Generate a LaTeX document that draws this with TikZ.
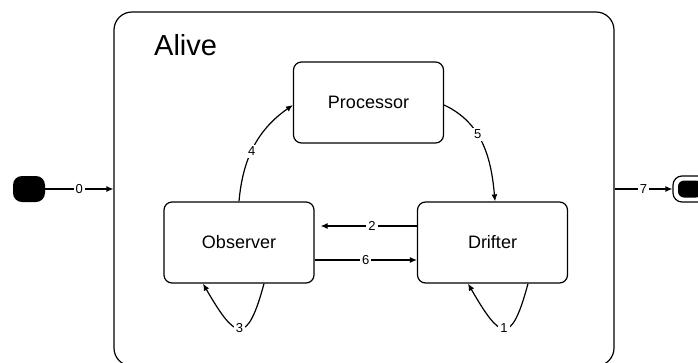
\documentclass[tikz,border=0pt]{standalone}
\usepackage{fontspec}
\setmainfont{Liberation Sans}
\usetikzlibrary{arrows.meta,positioning}

\tikzset{
  statebox/.style={draw,line width=1.2pt,rounded corners=8pt,minimum width=150pt,minimum height=81pt,font=\fontsize{18}{20}\selectfont},
  pseudo/.style={rectangle,rounded corners=9pt,inner sep=0pt},
  trans/.style={line width=1.2pt,->},
  lbl/.style={fill=white,inner sep=2pt,font=\fontsize{13}{14}\selectfont},
}

\begin{document}
\begin{tikzpicture}[x=1pt,y=1pt,>={Latex[length=7pt,width=6pt]}]
  \useasboundingbox (0,0) rectangle (698,-362);
  % composite state
  \node[draw,line width=1.2pt,rounded corners=18pt,minimum width=500pt,minimum height=354pt] (alive) at (364,-189) {};
  \node[anchor=base west,inner sep=0pt,font=\fontsize{29}{32}\selectfont] (title) at (154,-55) {Alive};
  % inner states
  \node[statebox] (proc) at (368.5,-102.5) {Processor};
  \node[statebox] (obs) at (239,-242.5) {Observer};
  \node[statebox] (drift) at (492.5,-242.5) {Drifter};
  % initial and final
  \node[pseudo,fill=black,minimum width=32pt,minimum height=26pt] (init) at (29,-189) {};
  \node[pseudo,draw,line width=1.2pt,minimum width=34pt,minimum height=26pt] (stop) at (690,-189) {};
  \node[pseudo,fill=black,rounded corners=6pt,minimum width=24pt,minimum height=17pt] (stopdot) at (stop) {};
  % transitions
  \draw[trans] (init.east) -- node[lbl]{0} (alive.west);
  \draw[trans] (alive.east) -- node[lbl]{7} (stop.west);
  \draw[trans,shorten >=6pt] ([yshift=16.5pt]drift.west) -- node[lbl,pos=0.44]{2} ([yshift=16.5pt]obs.east);
  \draw[trans] ([yshift=-17.5pt]obs.east) -- node[lbl]{6} ([yshift=-17.5pt]drift.west);
  \draw[trans] (obs.north) to[out=85,in=215] node[lbl,pos=0.45]{4} ([yshift=-2.5pt]proc.west);
  \draw[trans] ([yshift=-2.5pt]proc.east) to[out=-25,in=95] node[lbl,pos=0.4]{5} ([xshift=2.5pt]drift.north);
  \draw[trans] ([xshift=25pt]obs.south) .. controls +(-105:65) and +(-60:65) .. node[lbl]{3} ([xshift=-36pt]obs.south);
  \draw[trans] ([xshift=35.5pt]drift.south) .. controls +(-105:65) and +(-60:65) .. node[lbl]{1} ([xshift=-24.5pt]drift.south);
\end{tikzpicture}
\end{document}
